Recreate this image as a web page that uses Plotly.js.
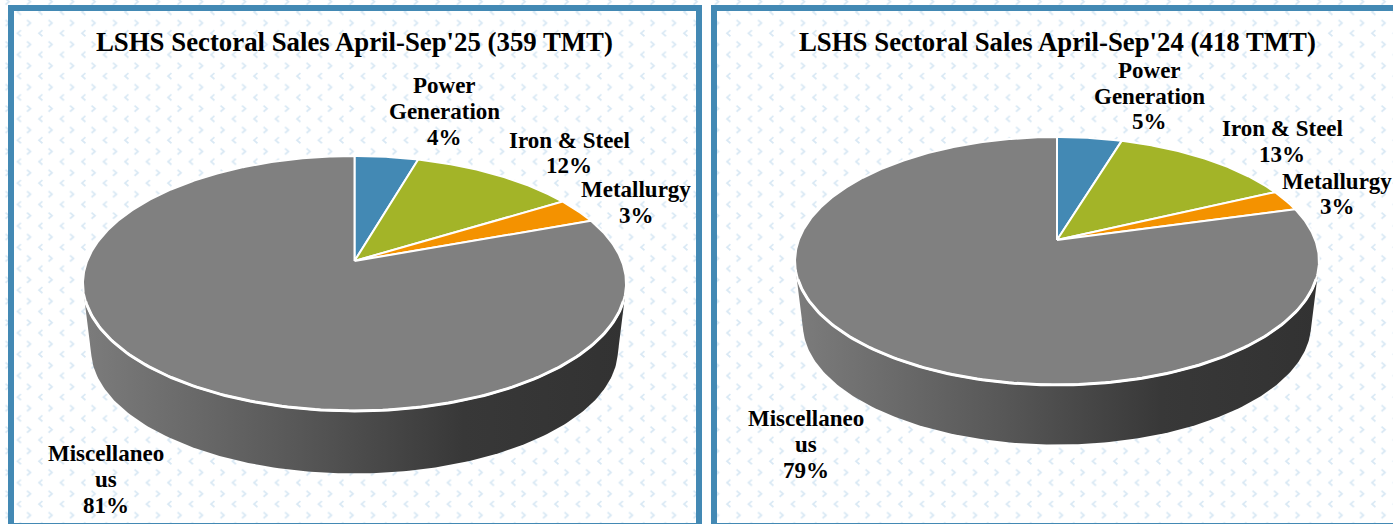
<!DOCTYPE html>
<html>
<head>
<meta charset="utf-8">
<script src="https://cdn.plot.ly/plotly-3.0.1.min.js"></script>
<style>html,body{margin:0;padding:0;background:#fff;overflow:hidden}#chart{width:1393px;height:524px}</style>
</head>
<body>
<div id="chart"></div>
<script>
// ---- data ----
const categories = ["Power<br>Generation", "Iron & Steel", "Metallurgy", "Miscellaneo<br>us"];
const sales25 = [4.49, 11.7, 3.2, 80.6];
const sales24 = [4.7, 13.3, 2.7, 79.3];
const title25 = "LSHS Sectoral Sales April-Sep'25 (359 TMT)";
const title24 = "LSHS Sectoral Sales April-Sep'24 (418 TMT)";

// ---- colours ----
const sliceColors = ["#4389b4", "#a3b428", "#f49200", "#808080"];
const frameColor = "#4389b4";
const wallScale = [[0, "#7c7c7c"], [0.4, "#575757"], [0.7, "#383838"], [1, "#323232"]];
const FONT = "Liberation Serif";
const LABEL_SIZE = 23, LINE_GAP = 25.6;

// ---- layout of the two pies (pixel-sized axes) ----
const pieLeft = {cx: 354.5, cy: 261, rx: 267.3, ry: 123.5, k: 0.176, s: 0.97, depth: 67, titleX: 354.5,
  labels: [[444, 111.5], [569, 153], [636, 202.5], [106, 479.5]]};
const pieRight = {cx: 1057, cy: 240, rx: 258.2, ry: 120.4, k: 0.169, s: 0.97, depth: 64, titleX: 1057,
  labels: [[1149, 96], [1282, 141.5], [1337, 194], [806, 444.5]]};

function rim(p, deg) {
  const t = deg * Math.PI / 180, den = 1 + p.k * Math.cos(t);
  return [p.rx * Math.sin(t) / den, -p.ry * Math.cos(t) / den];
}
function hull(pts) {
  pts = pts.slice().sort((a, b) => a[0] - b[0] || a[1] - b[1]);
  const cross = (o, a, b) => (a[0]-o[0])*(b[1]-o[1]) - (a[1]-o[1])*(b[0]-o[0]);
  const half = list => { const h = []; for (const q of list) {
      while (h.length > 1 && cross(h[h.length-2], h[h.length-1], q) <= 0) h.pop();
      h.push(q);} h.pop(); return h; };
  return half(pts).concat(half(pts.slice().reverse()));
}
function pieTraces(p, values) {
  const out = [];
  // side wall: hull of the top rim and the smaller, lower rim
  const pts = [];
  for (let d = 0; d < 360; d += 1) {
    const r = rim(p, d);
    pts.push([p.cx + r[0], p.cy + r[1]]);
    pts.push([p.cx + p.s * r[0], p.cy + p.s * r[1] + p.depth]);
  }
  const h = hull(pts); h.push(h[0]);
  out.push({type: "scatter", mode: "lines", x: h.map(q => q[0]), y: h.map(q => q[1]),
    line: {width: 0}, fill: "toself", fillcolor: "#555",
    fillgradient: {type: "horizontal", colorscale: wallScale}, hoverinfo: "skip"});
  // top face: one wedge per value
  const total = values.reduce((a, b) => a + b, 0);
  let acc = 0;
  values.forEach((v, i) => {
    const a0 = acc / total * 360, a1 = (acc + v) / total * 360;
    acc += v;
    const xs = [p.cx], ys = [p.cy];
    for (let d = a0; d < a1; d += 0.5) { const r = rim(p, d); xs.push(p.cx + r[0]); ys.push(p.cy + r[1]); }
    const r = rim(p, a1); xs.push(p.cx + r[0], p.cx); ys.push(p.cy + r[1], p.cy);
    out.push({type: "scatter", mode: "lines", x: xs, y: ys, fill: "toself", fillcolor: sliceColors[i],
      line: {color: "#ffffff", width: 2}, hoverinfo: "skip"});
  });
  // brighter white band where the top face meets the side wall
  const bx = [], by = [];
  for (let d = 108; d <= 252; d += 1) { const r = rim(p, d); bx.push(p.cx + r[0]); by.push(p.cy + r[1]); }
  out.push({type: "scatter", mode: "lines", x: bx, y: by, line: {color: "#ffffff", width: 3}, hoverinfo: "skip"});
  return out;
}
function pieLabels(p, values, title) {
  const total = values.reduce((a, b) => a + b, 0);
  const notes = [];
  values.forEach((v, i) => {
    const lines = categories[i].split("<br>").concat([Math.round(v / total * 100) + "%"]);
    lines.forEach((t, j) => notes.push({
      xref: "x", yref: "y", x: p.labels[i][0], y: p.labels[i][1] + (j - (lines.length - 1) / 2) * LINE_GAP,
      xanchor: "center", yanchor: "middle", showarrow: false,
      text: "<b>" + t + "</b>", font: {family: FONT, size: LABEL_SIZE, color: "#000"}
    }));
  });
  notes.push({xref: "x", yref: "y", x: p.titleX, y: 42, xanchor: "center", yanchor: "middle", showarrow: false,
    text: "<b>" + title + "</b>", font: {family: FONT, size: 26.8, color: "#000"}});
  return notes;
}

// ---- background chevron tile ----
const tile = '<svg xmlns="http://www.w3.org/2000/svg" width="1393" height="524"><defs>' +
  '<pattern id="c" patternUnits="userSpaceOnUse" width="21.5" height="21.4">' +
  '<polyline points="5.5,-1.4 9,1.6 5.5,4.6" fill="none" stroke="#d8e8f4" stroke-width="1.7"/>' +
  '<polyline points="21,8.8 17.5,11.8 21,14.8" fill="none" stroke="#d8e8f4" stroke-width="1.7"/>' +
  '<polyline points="5.5,20 9,23 5.5,26" fill="none" stroke="#d8e8f4" stroke-width="1.7"/>' +
  '</pattern></defs><rect width="1393" height="524" fill="#fff"/><rect width="1393" height="524" fill="url(#c)"/></svg>';

const frame = (x0, x1) => ({type: "rect", xref: "x", yref: "y", x0: x0, x1: x1, y0: 8, y1: 526,
  line: {color: frameColor, width: 6}, fillcolor: "rgba(0,0,0,0)", layer: "above"});

const layout = {
  width: 1393, height: 524, margin: {l: 0, r: 0, t: 0, b: 0},
  paper_bgcolor: "rgba(0,0,0,0)", plot_bgcolor: "rgba(0,0,0,0)",
  showlegend: false, hovermode: false,
  xaxis: {range: [0, 1393], visible: false, fixedrange: true},
  yaxis: {range: [524, 0], visible: false, fixedrange: true},
  images: [{source: "data:image/svg+xml;base64," + btoa(tile), xref: "paper", yref: "paper",
    x: 0, y: 1, sizex: 1, sizey: 1, sizing: "stretch", xanchor: "left", yanchor: "top", layer: "below"}],
  shapes: [
    {type: "rect", xref: "x", yref: "y", x0: 702, x1: 711, y0: 0, y1: 524, fillcolor: "#fff", line: {width: 0}, layer: "above"},
    frame(11, 699), frame(714, 1400)
  ],
  annotations: pieLabels(pieLeft, sales25, title25).concat(pieLabels(pieRight, sales24, title24))
};

Plotly.newPlot("chart", pieTraces(pieLeft, sales25).concat(pieTraces(pieRight, sales24)), layout, {displayModeBar: false, staticPlot: true});
</script>
</body>
</html>
